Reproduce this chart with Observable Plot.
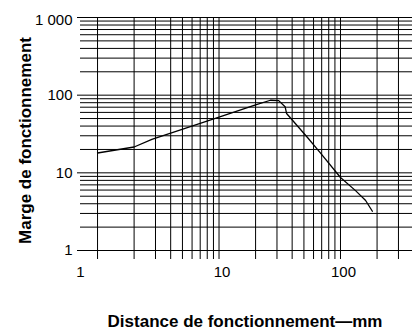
<!DOCTYPE html>
<html>
<head>
<meta charset="utf-8">
<script src="https://cdn.jsdelivr.net/npm/d3@7"></script>
<script src="https://cdn.jsdelivr.net/npm/@observablehq/plot@0.6"></script>
<style>
  html, body { margin: 0; padding: 0; background: white; }
</style>
</head>
<body>
<div id="chart"></div>
<script>
// Curve data
const distance = [1, 2, 2.8, 10, 20, 26.5, 31, 35, 36, 53.5, 68, 100, 133, 161, 183];
const margin   = [18, 21.5, 27, 52, 75, 86, 85, 71, 58, 28.5, 18.2, 8.7, 5.9, 4.4, 3.2];

// Grid and tick values
const xGrid = [1,2,3,4,5,6,7,8,9,10,20,30,40,50,60,70,80,90,100,200,300];
const yMajor = [1, 10, 100, 1000];
const yMinor = [2,3,4,5,6,7,8,9,20,30,40,50,60,70,80,90,200,300,400,500,600,700,800,900];
const xTicksMain = [10, 100];
const xTickFirst = [1];
const yTicksLow = [1, 10, 100];
const yTickTop = [1000];

const yLabel = "Marge de fonctionnement";
const xLabel = "Distance de fonctionnement—mm";

const data = distance.map((d, i) => ({distance: d, margin: margin[i]}));
const font = "'Liberation Sans', Arial, Helvetica, sans-serif";

const chart = Plot.plot({
  width: 412,
  height: 336,
  marginTop: 17,
  marginBottom: 86,
  marginLeft: 77,
  marginRight: 0,
  style: {fontFamily: font, background: "white", color: "black", overflow: "visible"},
  x: {type: "log", domain: [0.684, 391.5], axis: null},
  y: {type: "log", domain: [1, 1000], axis: null},
  marks: [
    Plot.ruleX(xGrid, {stroke: "black", strokeWidth: 1, insetBottom: -9}),
    Plot.ruleY(yMinor, {stroke: "black", strokeWidth: 1, insetLeft: 3}),
    Plot.ruleY(yMajor, {stroke: "black", strokeWidth: 1}),
    Plot.line(data, {x: "distance", y: "margin", stroke: "black", strokeWidth: 1.3}),
    Plot.axisY(yTicksLow, {anchor: "left", tickSize: 0, tickPadding: 5, fontSize: 15, tickFormat: d => String(d), label: null}),
    Plot.axisY(yTickTop, {anchor: "left", tickSize: 0, tickPadding: 5, fontSize: 15, dy: 3, tickFormat: () => "1 000", label: null}),
    Plot.axisX(xTicksMain, {anchor: "bottom", tickSize: 0, tickPadding: 16, fontSize: 15, dx: 3, tickFormat: d => String(d), label: null}),
    Plot.axisX(xTickFirst, {anchor: "bottom", tickSize: 0, tickPadding: 16, fontSize: 15, dx: -17, tickFormat: d => String(d), label: null}),
    Plot.text([yLabel], {frameAnchor: "left", rotate: -90, dx: -52, dy: 6.5, fontSize: 17, fontWeight: "bold", fill: "black", textAnchor: "middle"}),
    Plot.text([xLabel], {frameAnchor: "bottom", dy: 76.3, fontSize: 17, fontWeight: "bold", fill: "black", textAnchor: "middle"})
  ]
});
document.getElementById("chart").appendChild(chart);
</script>
</body>
</html>
